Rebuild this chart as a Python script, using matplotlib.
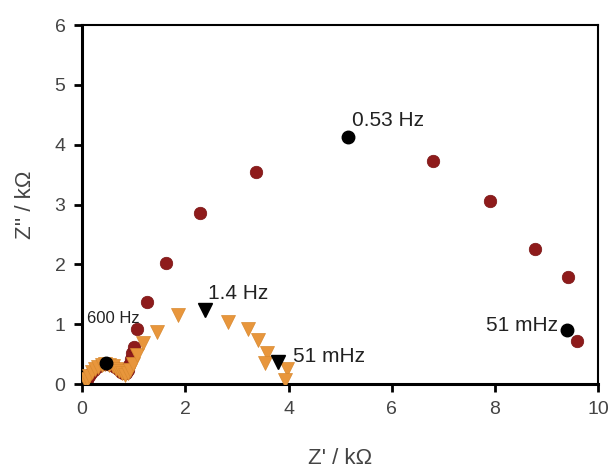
import numpy as np
import matplotlib.pyplot as plt

plt.rcParams['font.family'] = ['Liberation Sans', 'DejaVu Sans']

# dark red circles (Z' kOhm, Z'' kOhm)
circ_x = [0.06, 0.09, 0.13, 0.18, 0.23, 0.29, 0.35, 0.42, 0.49, 0.56, 0.63, 0.69, 0.75, 0.80, 0.85, 0.88,
          0.91, 0.94, 0.97, 1.00, 1.07, 1.26, 1.63, 2.29, 3.37, 6.80, 7.91, 8.78, 9.42, 9.59]
circ_y = [0.02, 0.07, 0.13, 0.19, 0.24, 0.29, 0.32, 0.34, 0.34, 0.32, 0.29, 0.25, 0.21, 0.18, 0.19, 0.24,
          0.32, 0.42, 0.52, 0.62, 0.92, 1.37, 2.02, 2.86, 3.55, 3.73, 3.06, 2.26, 1.79, 0.72]

# orange triangles
tri_x = [0.07, 0.10, 0.14, 0.19, 0.25, 0.31, 0.38, 0.45, 0.52, 0.59, 0.66, 0.72, 0.78, 0.83, 0.88,
         0.93, 0.99, 1.06, 1.18, 1.45, 1.85, 2.83, 3.22, 3.41, 3.59, 3.55, 3.97, 3.93]
tri_y = [0.03, 0.08, 0.14, 0.20, 0.25, 0.29, 0.32, 0.33, 0.32, 0.30, 0.26, 0.22, 0.18, 0.16, 0.18,
         0.24, 0.34, 0.48, 0.68, 0.87, 1.15, 1.04, 0.93, 0.74, 0.52, 0.35, 0.25, 0.07]

# highlighted frequency points (black)
blk_circ_x = [0.47, 5.16, 9.40]
blk_circ_y = [0.35, 4.13, 0.90]
blk_tri_x = [2.38, 3.80]
blk_tri_y = [1.24, 0.37]

labels = ['600 Hz', '1.4 Hz', '51 mHz', '0.53 Hz', '51 mHz']
label_x = [0.10, 2.44, 4.09, 5.23, 9.22]
label_y = [1.10, 1.52, 0.47, 4.40, 0.98]
label_ha = ['left', 'left', 'left', 'left', 'right']
label_size = [12, 15, 15, 15, 15]

fig = plt.figure(figsize=(6.13, 4.72), dpi=100)
ax = fig.add_axes([0.134, 0.186, 0.842, 0.761])

ax.plot(tri_x, tri_y, 'v', color='#E8963C', ms=9.5, mec='#D98A30', mew=0.5, zorder=3)
ax.plot(circ_x, circ_y, 'o', color='#8E1B1B', ms=9, mec='#7A1414', mew=0.5, zorder=2)
ax.plot(blk_circ_x, blk_circ_y, 'o', color='black', ms=9, zorder=4)
ax.plot(blk_tri_x, blk_tri_y, 'v', color='black', ms=9.5, zorder=4)

for t, x, y, ha, s in zip(labels, label_x, label_y, label_ha, label_size):
    ax.text(x, y, t, fontsize=s, color='#222222', va='center', ha=ha)

ax.set_xlim(0, 10)
ax.set_ylim(0, 6)
ax.set_xticks(range(0, 11, 2))
ax.set_yticks(range(0, 7))
ax.tick_params(direction='out', length=6, width=2, labelsize=14, labelcolor='#444444',
               pad=6, top=False, right=False)
for side in ['left', 'bottom']:
    ax.spines[side].set_linewidth(2.2)
for side in ['top', 'right']:
    ax.spines[side].set_linewidth(1.5)

ax.set_xlabel("Z' / k\u03a9", fontsize=16, color='#444444', labelpad=22)
ax.set_ylabel("Z'' / k\u03a9", fontsize=16, color='#444444', labelpad=13)

fig.savefig('out.png', dpi=100)
